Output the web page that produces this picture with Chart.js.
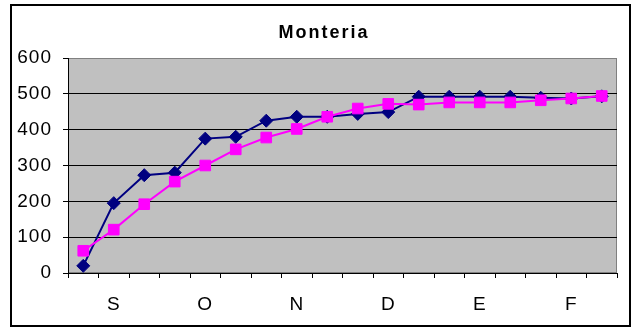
<!DOCTYPE html>
<html>
<head>
<meta charset="utf-8">
<title>Monteria</title>
<script src="https://cdn.jsdelivr.net/npm/chart.js@4.4.0/dist/chart.umd.min.js"></script>
<style>
    body { margin: 0; background: #fff; }
    #myChart { display: block; }
</style>
</head>
<body>
<canvas id="myChart" width="638" height="329"></canvas>
<script>
// months, only every third category has a label
let labels = ["", "S", "", "", "O", "", "", "N", "", "", "D", "", "", "E", "", "", "F", ""];

let serieAzul = [20, 195, 273, 280, 375, 380, 425, 436, 436, 444, 449, 492, 492, 492, 492, 489, 487, 493];
let serieRosa = [62, 121, 192, 255, 300, 345, 378, 402, 436, 459, 472, 470, 476, 476, 476, 482, 487, 494];

let yTicks = [0, 100, 200, 300, 400, 500, 600];

let titulo = "Monteria";
let fuente = "Arial, 'Liberation Sans', sans-serif";

// gray plot area + outer frame + title
let fondo = {
    id: "fondo",
    beforeDraw: function(chart) {
        let ctx = chart.ctx;
        let a = chart.chartArea;
        ctx.save();
        ctx.fillStyle = "#ffffff";
        ctx.fillRect(0, 0, chart.width, chart.height);
        ctx.strokeStyle = "#000000";
        ctx.lineWidth = 2;
        ctx.strokeRect(11, 5, 619, 321);
        ctx.fillStyle = "#c0c0c0";
        ctx.fillRect(a.left, a.top, a.right - a.left, a.bottom - a.top);
        ctx.strokeStyle = "#808080";
        ctx.lineWidth = 1;
        ctx.strokeRect(a.left + 0.5, a.top + 0.5, a.right - a.left - 1, a.bottom - a.top - 1);

        ctx.letterSpacing = "2px";
        ctx.fillStyle = "#000000";
        ctx.font = "bold 18px " + fuente;
        ctx.textAlign = "center";
        ctx.textBaseline = "middle";
        ctx.fillText(titulo, 324, 33);
        ctx.restore();
        // tick labels look a little spaced out too
        ctx.letterSpacing = "1px";
    }
};

let ctx = document.getElementById("myChart").getContext("2d");

let chart = new Chart(ctx, {
    type: "line",
    data: {
        labels: labels,
        datasets: [{
            label: "Monteria 1",
            data: serieAzul,
            borderColor: "#000080",
            backgroundColor: "#000080",
            borderWidth: 2,
            pointStyle: "rectRot",
            pointRadius: 6.5,
            pointBorderWidth: 1,
            tension: 0,
            order: 1
        }, {
            label: "Monteria 2",
            data: serieRosa,
            borderColor: "#ff00ff",
            backgroundColor: "#ff00ff",
            borderWidth: 2,
            pointStyle: "rect",
            pointRadius: 7.5,
            pointBorderWidth: 1,
            tension: 0,
            order: 0
        }]
    },
    options: {
        responsive: false,
        animation: false,
        layout: { padding: { top: 58, left: 0, right: 21, bottom: 0 } },
        plugins: {
            legend: { display: false },
            tooltip: { enabled: false },
            title: { display: false }
        },
        scales: {
            x: {
                offset: true,
                afterFit: function(scale) { scale.height = 56; },
                grid: {
                    offset: true,
                    drawOnChartArea: false,
                    tickLength: 5,
                    tickColor: "#000000"
                },
                border: { color: "#000000", width: 1 },
                ticks: {
                    autoSkip: false,
                    maxRotation: 0,
                    padding: 15,
                    color: "#000000",
                    font: { family: fuente, size: 19 }
                }
            },
            y: {
                min: 0,
                max: 600,
                afterFit: function(scale) { scale.width = 68; },
                afterBuildTicks: function(scale) {
                    scale.ticks = yTicks.map(v => ({ value: v }));
                },
                grid: {
                    color: function(c) { return c.tick && c.tick.value == 600 ? "#808080" : "#000000"; },
                    lineWidth: 1,
                    tickLength: 5,
                    tickColor: "#000000"
                },
                border: { color: "#000000", width: 1 },
                ticks: {
                    padding: 11,
                    color: "#000000",
                    font: { family: fuente, size: 19 }
                }
            }
        }
    },
    plugins: [fondo]
});
</script>
</body>
</html>
